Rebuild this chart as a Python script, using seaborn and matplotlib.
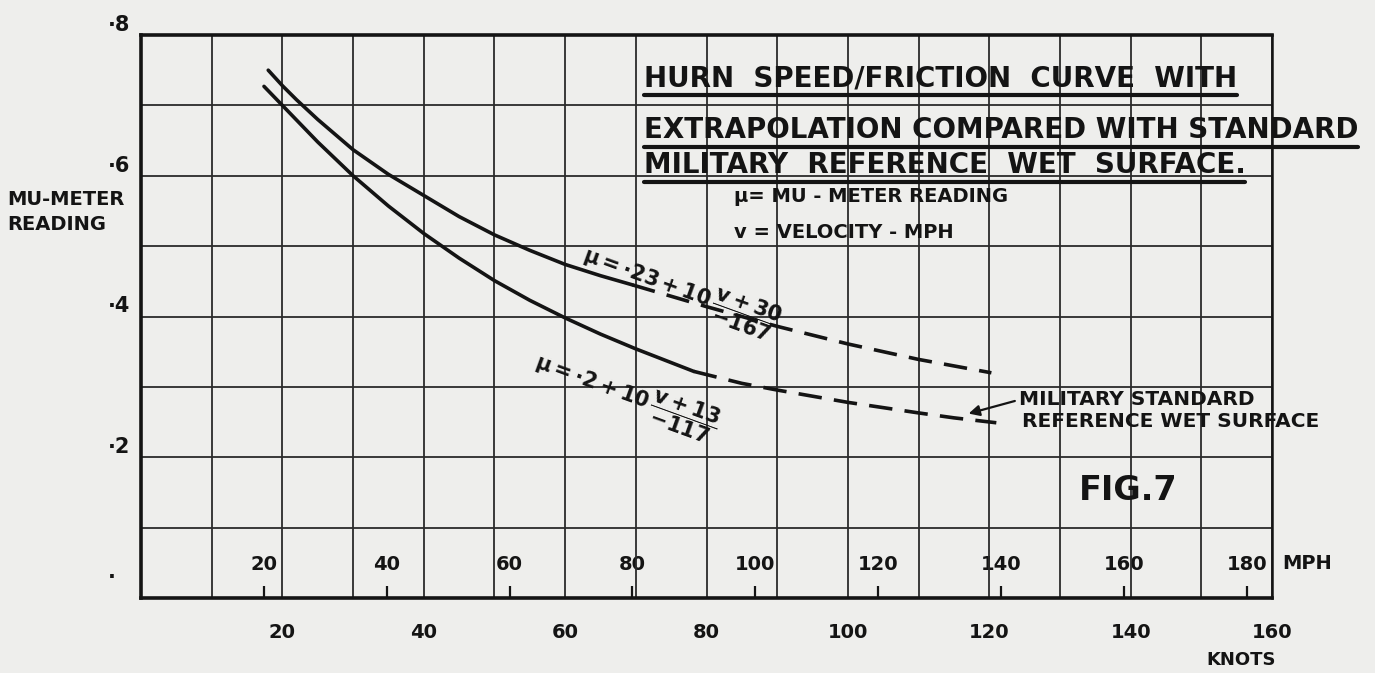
import matplotlib.pyplot as plt
import seaborn as sns
from matplotlib.lines import Line2D
from matplotlib.ticker import MultipleLocator

# curve readings, knots vs mu-meter reading
upper_solid_kn = [18.0, 20, 22, 25, 30, 35, 40, 45, 50, 55, 60, 65, 69.5]
upper_solid_mu = [0.750, 0.728, 0.708, 0.680, 0.637, 0.602, 0.572, 0.542, 0.516, 0.494, 0.474, 0.458, 0.445]
upper_dash_kn = [69.5, 80, 90, 100, 110, 120.3]
upper_dash_mu = [0.445, 0.414, 0.386, 0.361, 0.339, 0.320]

lower_solid_kn = [17.4, 20, 25, 30, 35, 40, 45, 50, 55, 60, 65, 70, 78.2]
lower_solid_mu = [0.727, 0.700, 0.648, 0.600, 0.557, 0.518, 0.483, 0.451, 0.423, 0.398, 0.375, 0.354, 0.322]
lower_dash_kn = [78.2, 85, 90, 100, 110, 115, 121]
lower_dash_mu = [0.322, 0.305, 0.2955, 0.278, 0.263, 0.256, 0.249]

knot_ticks = [20, 40, 60, 80, 100, 120, 140, 160]
mph_ticks = [20, 40, 60, 80, 100, 120, 140, 160, 180]
y_ticks = [0.2, 0.4, 0.6, 0.8]
y_tick_labels = ['·2', '·4', '·6', '·8']

title_lines = ['HURN  SPEED/FRICTION  CURVE  WITH',
               'EXTRAPOLATION COMPARED WITH STANDARD',
               'MILITARY  REFERENCE  WET  SURFACE.']

KN_PER_MPH = 0.868976
paper = '#eeeeec'
ink = '#141414'

sns.set_theme(style='white')
plt.rcParams['font.family'] = ['DejaVu Sans']
plt.rcParams['font.weight'] = 'bold'
plt.rcParams['axes.labelweight'] = 'bold'
plt.rcParams['mathtext.default'] = 'bf'
plt.rcParams['text.color'] = ink

fig = plt.figure(figsize=(13.75, 6.73), dpi=100, facecolor=paper)
ax = fig.add_axes([141 / 1375, 75 / 673, 1131 / 1375, 563 / 673])
ax.set_facecolor(paper)

line_kw = dict(ax=ax, color=ink, linewidth=2.6, sort=False, estimator=None)
sns.lineplot(x=upper_solid_kn, y=upper_solid_mu, **line_kw)
sns.lineplot(x=lower_solid_kn, y=lower_solid_mu, **line_kw)
sns.lineplot(x=upper_dash_kn, y=upper_dash_mu, linestyle=(0, (6.5, 3.4)), **line_kw)
sns.lineplot(x=lower_dash_kn, y=lower_dash_mu, linestyle=(0, (6.5, 3.4)), **line_kw)

ax.set_xlim(0, 160)
ax.set_ylim(0, 0.8)
ax.set_xticks(knot_ticks)
ax.set_yticks(y_ticks)
ax.set_yticklabels(y_tick_labels)
ax.xaxis.set_minor_locator(MultipleLocator(10))
ax.yaxis.set_minor_locator(MultipleLocator(0.1))
ax.grid(which='both', color='#2b2b2b', linewidth=1.3)
ax.set_axisbelow(True)

ax.tick_params(axis='x', which='major', direction='out', length=12, width=1.6,
               color=ink, labelsize=14, pad=6, labelcolor=ink)
ax.tick_params(axis='y', which='major', direction='out', length=9, width=1.6,
               color=ink, labelsize=15, pad=-1, labelcolor=ink)
ax.tick_params(which='minor', length=0)
for lab in ax.get_yticklabels():
    lab.set_verticalalignment('bottom')

for side in ['left', 'top', 'bottom']:
    ax.spines[side].set_linewidth(2.6)
    ax.spines[side].set_color(ink)
ax.spines['right'].set_linewidth(1.8)
ax.spines['right'].set_color(ink)

sec = ax.secondary_xaxis('bottom', functions=(lambda k: k / KN_PER_MPH, lambda m: m * KN_PER_MPH))
sec.set_xticks(mph_ticks)
sec.tick_params(direction='in', length=9, width=1.6, color=ink, pad=-31, labelsize=14, labelcolor=ink)
sec.spines['bottom'].set_visible(False)

ax.set_xlabel('')
ax.set_ylabel('MU-METER\nREADING', rotation=0, ha='left', va='center', fontsize=14,
              fontweight='bold', linespacing=1.4, color=ink)
ax.yaxis.set_label_coords(-0.118, 0.686)

ax.text(-4.1, 0.03, '·', fontsize=15, ha='center', va='center')
ax.text(164.9, 0.0497, 'MPH', fontsize=14, ha='center', va='center')
ax.text(155.7, -0.088, 'KNOTS', fontsize=13, ha='center', va='center')

title_y = [0.7386, 0.665, 0.615]
title_texts = [ax.text(71.1, ty, t, fontsize=20, ha='left', va='center', clip_on=False)
               for t, ty in zip(title_lines, title_y)]

ax.text(83.9, 0.57, 'μ= MU - METER READING', fontsize=14, ha='left', va='center')
ax.text(83.9, 0.52, 'v = VELOCITY - MPH', fontsize=14, ha='left', va='center')

ax.text(62.6, 0.488, r'$\mu=\cdot23+10\,\dfrac{v+30}{-167}$', fontsize=15, rotation=-20,
        rotation_mode='anchor', ha='left', va='center')
ax.text(55.8, 0.335, r'$\mu=\cdot2+10\,\dfrac{v+13}{-117}$', fontsize=15, rotation=-20,
        rotation_mode='anchor', ha='left', va='center')

ax.text(124.2, 0.282, 'MILITARY STANDARD', fontsize=14.5, ha='left', va='center')
ax.text(124.6, 0.251, 'REFERENCE WET SURFACE', fontsize=14.5, ha='left', va='center')
ax.annotate('', xy=(116.7, 0.261), xytext=(124.0, 0.281),
            arrowprops=dict(arrowstyle='-|>', color=ink, lw=1.6, mutation_scale=16))

ax.text(139.7, 0.153, 'FIG.7', fontsize=24, ha='center', va='center')

# underline the title lines
fig.canvas.draw()
renderer = fig.canvas.get_renderer()
inv = fig.transFigure.inverted()
for t in title_texts:
    bb = t.get_window_extent(renderer)
    (x0, y0), (x1, _) = inv.transform([(bb.x0, bb.y0 - 3), (bb.x1, bb.y0)])
    fig.add_artist(Line2D([x0, x1], [y0, y0], transform=fig.transFigure, color=ink, lw=3))

fig.savefig('out.png', dpi=100, facecolor=paper)
